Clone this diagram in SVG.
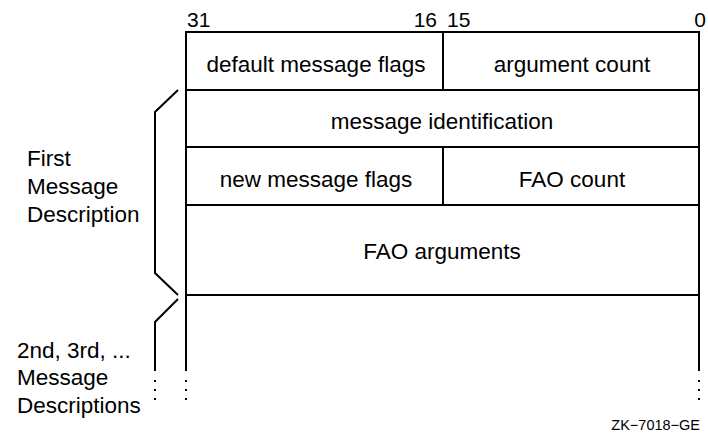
<svg xmlns="http://www.w3.org/2000/svg" width="708" height="444" viewBox="0 0 708 444">
  <style>
    .ln { stroke: #000; stroke-width: 2; fill: none; }
    .dot { fill: #000; }
    text { font-family: "Liberation Sans", Arial, sans-serif; font-size: 22.5px; fill: #000; }
    .num { font-size: 21px; }
    .c { text-anchor: middle; }
    .e { text-anchor: end; }
    .small { font-size: 14.5px; }
  </style>
  <rect width="708" height="444" fill="#fff"/>

  <!-- bit numbers -->
  <g id="bits">
    <text class="num" x="187" y="27">31</text>
    <text class="num e" x="437" y="27">16</text>
    <text class="num" x="447" y="27">15</text>
    <text class="num c" x="700" y="27">0</text>
  </g>

  <!-- record outline and field separators -->
  <g id="connectors">
    <path class="ln" d="M186,371 V32 H699 V371"/>
    <path class="ln" d="M186,90 H699 M186,147 H699 M186,205 H699 M186,295 H699"/>
    <path class="ln" d="M443,32 V90 M443,147 V205"/>
    <!-- braces -->
    <path class="ln" d="M178,90 L155,112 V273 L178,295"/>
    <path class="ln" d="M178,299 L155,322 V371"/>
    <!-- continuation dots -->
    <g class="dot">
      <rect x="154" y="380" width="2" height="2"/>
      <rect x="154" y="389" width="2" height="2"/>
      <rect x="154" y="398" width="2" height="2"/>
      <rect x="185" y="380" width="2" height="2"/>
      <rect x="185" y="389" width="2" height="2"/>
      <rect x="185" y="398" width="2" height="2"/>
      <rect x="698" y="380" width="2" height="2"/>
      <rect x="698" y="389" width="2" height="2"/>
      <rect x="698" y="398" width="2" height="2"/>
    </g>
  </g>

  <g id="default-flags"><text class="c" x="316" y="72">default message flags</text></g>
  <g id="argument-count"><text class="c" x="572" y="72">argument count</text></g>
  <g id="message-id"><text class="c" x="442" y="129">message identification</text></g>
  <g id="new-flags"><text class="c" x="316" y="187">new message flags</text></g>
  <g id="fao-count"><text class="c" x="572" y="187">FAO count</text></g>
  <g id="fao-args"><text class="c" x="442" y="259">FAO arguments</text></g>

  <g id="first-label">
    <text x="27" y="166">First</text>
    <text x="27" y="194">Message</text>
    <text x="27" y="222">Description</text>
  </g>
  <g id="other-label">
    <text x="17" y="358">2nd, 3rd, ...</text>
    <text x="17" y="385">Message</text>
    <text x="17" y="413">Descriptions</text>
  </g>

  <text class="small e" x="700" y="430">ZK−7018−GE</text>
</svg>
